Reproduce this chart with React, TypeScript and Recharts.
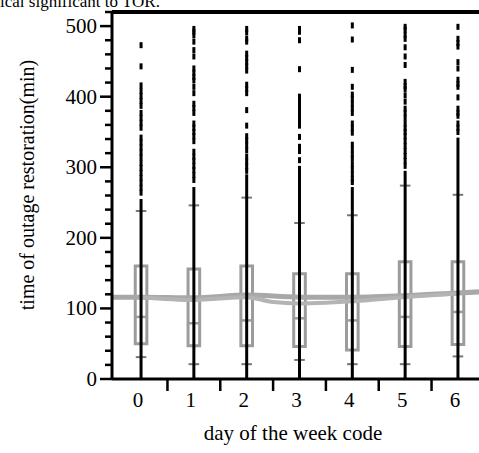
import React from 'react';
import { ComposedChart, XAxis, YAxis, Line, Scatter, ReferenceLine, ReferenceArea } from 'recharts';

// values (minutes)
const days = [0, 1, 2, 3, 4, 5, 6];
const boxLow = [50, 47, 47, 46, 41, 46, 49];
const boxHigh = [160, 156, 160, 149, 149, 166, 166];
const medians = [88, 79, 83, 86, 83, 88, 95];
const p10 = [31, 21, 21, 27, 21, 21, 32];
const p90 = [238, 246, 257, 221, 232, 274, 261];
const whiskerTop = [255, 272, 290, 302, 272, 295, 342];

const outliers0 = [473, 443, 416, 408, 401, 394, 387, 377, 370, 363, 356, 342, 335, 328, 321, 314, 306, 299, 292, 285, 278, 271, 264];
const outliers1 = [496, 492, 487, 478, 466, 457, 440, 434, 428, 423, 414, 405, 390, 384, 377, 362, 356, 350, 344, 337, 322, 315, 309, 302, 296, 289, 282];
const outliers2 = [496, 491, 482, 478, 461, 455, 449, 443, 437, 417, 411, 405, 381, 359, 344, 338, 331, 324, 315, 308, 301, 295];
const outliers3 = [496, 492, 480, 439, 400, 394, 390, 383, 377, 371, 365, 359, 343, 329, 323, 310];
const outliers4 = [501, 481, 438, 414, 403, 397, 390, 383, 377, 362, 355, 349, 332, 325, 318, 312, 304, 297, 290, 283, 279];
const outliers5 = [499, 495, 488, 482, 470, 457, 445, 421, 415, 411, 402, 393, 383, 377, 370, 362, 355, 350, 344, 337, 330, 323, 316, 309, 302];
const outliers6 = [499, 482, 476, 471, 449, 440, 424, 418, 414, 399, 383, 377, 373, 362, 356, 350];
const outlierSets = [outliers0, outliers1, outliers2, outliers3, outliers4, outliers5, outliers6];

const trendDays = [-0.55, 0, 1, 2, 3, 4, 5, 6, 6.55];
const trendUpper = [116, 116, 115, 119, 116, 116, 118, 122, 124];
const trendLowerDays = [0, 1, 2, 2.5, 3, 3.5, 4, 4.5, 5, 6];
const trendLower = [116, 112, 116, 109, 107, 108, 110, 113, 116, 121];

const xTicks = [0, 0.5, 1, 1.5, 2, 2.5, 3, 3.5, 4, 4.5, 5, 5.5, 6, 6.5];
const yTicks = [0, 20, 40, 60, 80, 100, 120, 140, 160, 180, 200, 220, 240, 260, 280, 300, 320, 340, 360, 380, 400, 420, 440, 460, 480, 500, 520];

const FONT = '"Liberation Serif", "Times New Roman", serif';
const GRAY = '#9c9c9c';
const BOX_HALF = 0.11;
const CAP_HALF = 0.1;

const outlierData = days.flatMap((d, i) => outlierSets[i].map((v) => ({ day: d, value: v })));
const upperData = trendDays.map((d, i) => ({ day: d, value: trendUpper[i] }));
const lowerData = trendLowerDays.map((d, i) => ({ day: d, value: trendLower[i] }));

const YTick = (props: any) => {
  const { x, y, payload } = props;
  const major = payload.value % 100 === 0;
  return (
    <g>
      <line x1={x - (major ? 12 : 7)} x2={x} y1={y} y2={y} stroke="#000" strokeWidth={2.5} />
      {major && (
        <text x={x - 15} y={y} textAnchor="end" dominantBaseline="central" fontFamily={FONT} fontSize={21} fill="#000">
          {payload.value}
        </text>
      )}
    </g>
  );
};

const XTick = (props: any) => {
  const { x, y, payload } = props;
  if (Number.isInteger(payload.value)) {
    return (
      <text x={x - 3} y={y + 28} textAnchor="middle" fontFamily={FONT} fontSize={21} fill="#000">
        {payload.value}
      </text>
    );
  }
  return <line x1={x} x2={x} y1={y} y2={y + 12} stroke="#000" strokeWidth={2.5} />;
};

const Dash = (props: any) => <rect x={props.cx - 1.5} y={props.cy - 3} width={3} height={6} fill="#000" />;

export default function App() {
  return (
    <div style={{ position: 'fixed', left: 0, top: 0, width: 479, height: 453, overflow: 'hidden', background: '#fff' }}>
      <ComposedChart width={490} height={453} margin={{ top: 12, right: 3, bottom: 0, left: 0 }}>
        <XAxis
          dataKey="day"
          type="number"
          domain={[-0.55, 6.55]}
          ticks={xTicks}
          interval={0}
          tickSize={0}
          tickMargin={0}
          tick={<XTick />}
          height={74}
          axisLine={{ stroke: '#000', strokeWidth: 3 }}
        />
        <YAxis
          type="number"
          domain={[0, 520]}
          ticks={yTicks}
          interval={0}
          tickSize={0}
          tickMargin={0}
          tick={<YTick />}
          width={112}
          axisLine={{ stroke: '#000', strokeWidth: 3 }}
        />
        <ReferenceLine y={520} stroke="#000" strokeWidth={4} />
        <Line data={upperData} dataKey="value" type="monotone" stroke="#a8a8a8" strokeWidth={5} dot={false} isAnimationActive={false} />
        <Line data={lowerData} dataKey="value" type="monotone" stroke="#b4b4b4" strokeWidth={4} dot={false} isAnimationActive={false} />
        {days.map((d, i) => (
          <ReferenceArea key={`box${d}`} x1={d - BOX_HALF} x2={d + BOX_HALF} y1={boxLow[i]} y2={boxHigh[i]} fill="none" stroke={GRAY} strokeWidth={3} />
        ))}
        {days.map((d, i) => (
          <ReferenceLine key={`med${d}`} segment={[{ x: d - BOX_HALF, y: medians[i] }, { x: d + BOX_HALF, y: medians[i] }]} stroke={GRAY} strokeWidth={2.5} />
        ))}
        {days.map((d, i) => (
          <ReferenceLine key={`lo${d}`} segment={[{ x: d - CAP_HALF, y: p10[i] }, { x: d + CAP_HALF, y: p10[i] }]} stroke="#777" strokeWidth={2} />
        ))}
        {days.map((d, i) => (
          <ReferenceLine key={`hi${d}`} segment={[{ x: d - CAP_HALF, y: p90[i] }, { x: d + CAP_HALF, y: p90[i] }]} stroke="#777" strokeWidth={2} />
        ))}
        {days.map((d, i) => (
          <ReferenceLine key={`wh${d}`} segment={[{ x: d, y: 0 }, { x: d, y: whiskerTop[i] }]} stroke="#000" strokeWidth={3} />
        ))}
        <Scatter data={outlierData} dataKey="value" shape={<Dash />} isAnimationActive={false} />
      </ComposedChart>
      <svg width={479} height={453} style={{ position: 'absolute', left: 0, top: 0, pointerEvents: 'none' }}>
        <text x={0} y={7} fontFamily={FONT} fontSize={17} fill="#000">ical significant to TOR.</text>
        <text x={27} y={185} transform="rotate(-90 27 185)" textAnchor="middle" dominantBaseline="central" fontFamily={FONT} fontSize={20} fill="#000">
          time of outage restoration(min)
        </text>
        <text x={293} y={440} textAnchor="middle" fontFamily={FONT} fontSize={21} fill="#000">
          day of the week code
        </text>
      </svg>
    </div>
  );
}
